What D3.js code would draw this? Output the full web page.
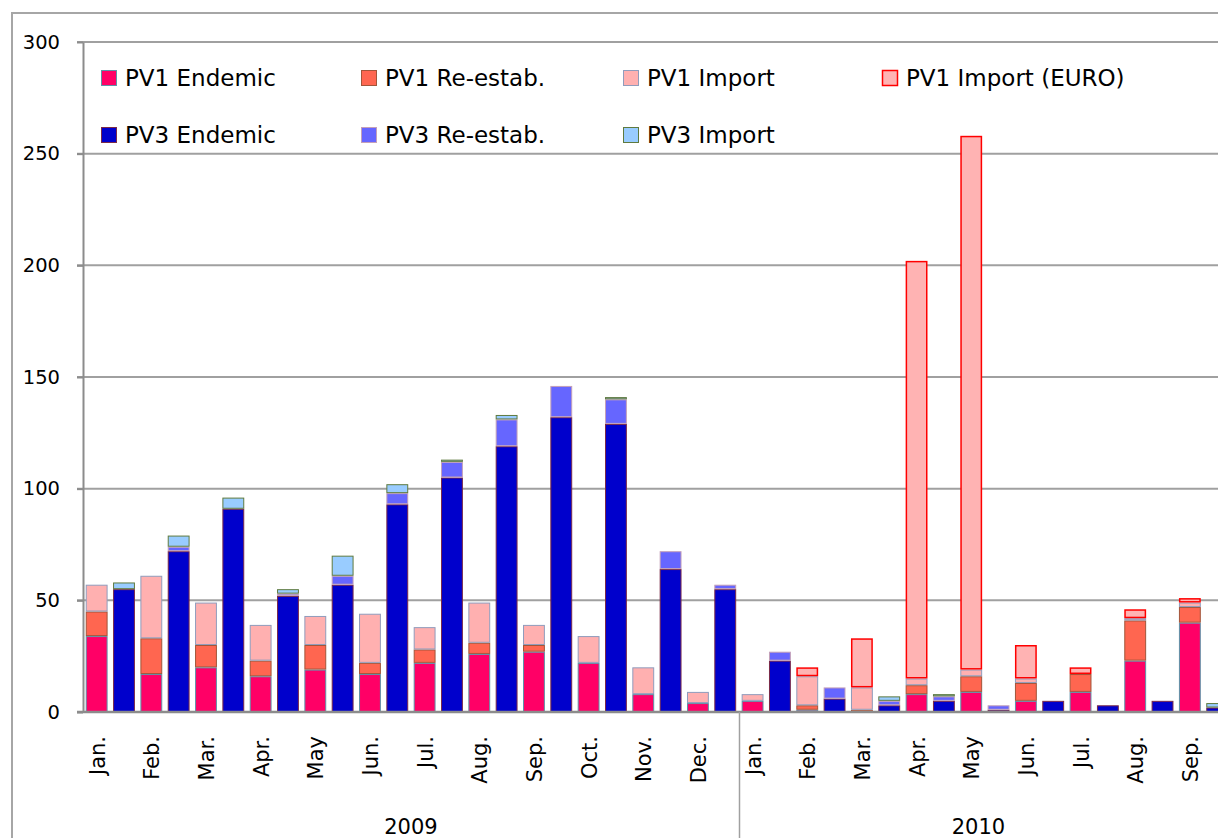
<!DOCTYPE html>
<html>
<head>
<meta charset="utf-8">
<script src="https://cdn.jsdelivr.net/npm/d3@7"></script>
<style>
  body { margin: 0; background: #fff; }
  svg { display: block; font-family: "DejaVu Sans", sans-serif; }
</style>
</head>
<body>
<div id="chart"></div>
<script>
(function () {
  // month labels and the year each one belongs to (Jan 2009 .. Sep 2010)
  const months = ["Jan.", "Feb.", "Mar.", "Apr.", "May", "Jun.", "Jul.", "Aug.", "Sep.", "Oct.", "Nov.", "Dec.",
    "Jan.", "Feb.", "Mar.", "Apr.", "May", "Jun.", "Jul.", "Aug.", "Sep."];
  const monthYears = ["2009", "2009", "2009", "2009", "2009", "2009", "2009", "2009", "2009", "2009", "2009", "2009",
    "2010", "2010", "2010", "2010", "2010", "2010", "2010", "2010", "2010"];

  // cases per month
  const pv1Endemic = [34, 17, 20, 16, 19, 17, 22, 26, 27, 22, 8, 4, 5, 1, 0, 8, 9, 5, 9, 23, 40];
  const pv1Reestab = [11, 16, 10, 7, 11, 5, 6, 5, 3, 0, 0, 0, 0, 2, 1, 4, 7, 8, 8, 18, 7];
  const pv1Import = [12, 28, 19, 16, 13, 22, 10, 18, 9, 12, 12, 5, 3, 13, 10, 3, 3, 2, 0, 1, 2];
  const pv1ImportEuro = [0, 0, 0, 0, 0, 0, 0, 0, 0, 0, 0, 0, 0, 4, 22, 187, 239, 15, 3, 4, 2];
  const pv3Endemic = [55, 72, 91, 52, 57, 93, 105, 119, 132, 129, 64, 55, 23, 6, 3, 5, 1, 5, 3, 5, 2];
  const pv3Reestab = [0, 2, 0, 1, 4, 5, 7, 12, 14, 11, 8, 2, 4, 5, 2, 2, 2, 0, 0, 0, 0];
  const pv3Import = [3, 5, 5, 2, 9, 4, 1, 2, 0, 1, 0, 0, 0, 0, 2, 1, 0, 0, 0, 0, 2];

  const yTicks = [0, 50, 100, 150, 200, 250, 300];

  const series = [
    { key: "pv1End", name: "PV1 Endemic", type: "PV1", values: pv1Endemic, fill: "#ff0066", stroke: "#5e93a8", sw: 1 },
    { key: "pv1Re", name: "PV1 Re-estab.", type: "PV1", values: pv1Reestab, fill: "#ff6650", stroke: "#a2553a", sw: 1 },
    { key: "pv1Imp", name: "PV1 Import", type: "PV1", values: pv1Import, fill: "#ffb0b0", stroke: "#909cbc", sw: 1 },
    { key: "pv1Euro", name: "PV1 Import (EURO)", type: "PV1", values: pv1ImportEuro, fill: "#ffb3b3", stroke: "#ff0000", sw: 1.5 },
    { key: "pv3End", name: "PV3 Endemic", type: "PV3", values: pv3Endemic, fill: "#0000cc", stroke: "#7a2a48", sw: 1 },
    { key: "pv3Re", name: "PV3 Re-estab.", type: "PV3", values: pv3Reestab, fill: "#6666ff", stroke: "#c4a0b8", sw: 1 },
    { key: "pv3Imp", name: "PV3 Import", type: "PV3", values: pv3Import, fill: "#99ccff", stroke: "#5f7a3f", sw: 1 }
  ];

  // one column per month and virus type
  const rows = [];
  months.forEach((m, i) => {
    ["PV1", "PV3"].forEach(t => {
      const row = { id: i + "-" + t, month: i, type: t };
      series.forEach(s => { row[s.key] = s.type === t ? s.values[i] : 0; });
      rows.push(row);
    });
  });

  const W = 1218, H = 838;
  const margin = { left: 83, top: 42 };
  const step = 27.33;
  const plotRight = margin.left + step * rows.length;
  const baseY = 712;

  const x = d3.scaleBand()
    .domain(rows.map(r => r.id))
    .range([margin.left, plotRight])
    .paddingInner(0.2)
    .paddingOuter(0.1);

  const y = d3.scaleLinear()
    .domain([0, 300])
    .range([baseY, margin.top]);

  const stacked = d3.stack().keys(series.map(s => s.key))(rows);

  const svg = d3.select("#chart").append("svg")
    .attr("width", W)
    .attr("height", H);

  // chart frame
  svg.append("rect")
    .attr("x", 12).attr("y", 13)
    .attr("width", W + 100).attr("height", H + 100)
    .attr("fill", "none")
    .attr("stroke", "#a6a6a6")
    .attr("stroke-width", 2);

  // gridlines
  svg.append("g").selectAll("line")
    .data(yTicks.filter(t => t > 0))
    .join("line")
    .attr("x1", margin.left - 6).attr("x2", W)
    .attr("y1", d => y(d)).attr("y2", d => y(d))
    .attr("stroke", "#a0a0a0")
    .attr("stroke-width", 2);

  // y axis
  const yAxis = svg.append("g")
    .attr("transform", "translate(" + margin.left + ",0)")
    .call(d3.axisLeft(y).tickValues(yTicks).tickSizeInner(6).tickSizeOuter(0).tickPadding(17));
  yAxis.select(".domain").attr("stroke", "#8c8c8c").attr("stroke-width", 2);
  yAxis.selectAll(".tick line").attr("stroke", "#8c8c8c").attr("stroke-width", 2);
  yAxis.selectAll(".tick text")
    .attr("font-size", "19.5px")
    .attr("font-family", "DejaVu Sans, sans-serif")
    .attr("fill", "#000");

  // bars
  const layers = svg.append("g").selectAll("g")
    .data(stacked)
    .join("g")
    .each(function (layer, li) {
      const s = series[li];
      d3.select(this).selectAll("rect")
        .data(layer.filter(d => d[1] - d[0] > 0))
        .join("rect")
        .attr("x", d => x(d.data.id) + s.sw / 2)
        .attr("width", x.bandwidth() - s.sw)
        .attr("y", d => y(d[1]) + s.sw / 2)
        .attr("height", d => Math.max(0.5, y(d[0]) - y(d[1]) - s.sw))
        .attr("fill", s.fill)
        .attr("stroke", s.stroke)
        .attr("stroke-width", s.sw);
    });

  // x axis line
  svg.append("line")
    .attr("x1", margin.left - 6).attr("x2", W)
    .attr("y1", baseY).attr("y2", baseY)
    .attr("stroke", "#8c8c8c")
    .attr("stroke-width", 2.5);

  // month labels (under the PV1 column of each month)
  svg.append("g").selectAll("text")
    .data(months)
    .join("text")
    .attr("transform", (d, i) => {
      const cx = x(i + "-PV1") + x.bandwidth() / 2 + 1;
      return "translate(" + cx + "," + (baseY + 24) + ") rotate(-90)";
    })
    .attr("text-anchor", "end")
    .attr("dominant-baseline", "central")
    .attr("font-size", "21px")
    .attr("fill", "#000")
    .text(d => d);

  // year groups
  const yearNames = Array.from(new Set(monthYears));
  const groups = yearNames.map(yr => {
    const idx = monthYears.map((v, i) => v === yr ? i : -1).filter(i => i >= 0);
    const x0 = x(idx[0] + "-PV1") - x.step() * x.paddingOuter();
    const x1 = x(idx[idx.length - 1] + "-PV3") + x.bandwidth() + x.step() * x.paddingOuter();
    return { year: yr, x0: x0, x1: x1 };
  });

  svg.append("g").selectAll("line")
    .data(groups.slice(1))
    .join("line")
    .attr("x1", d => Math.round(d.x0) + 0.5).attr("x2", d => Math.round(d.x0) + 0.5)
    .attr("y1", baseY).attr("y2", H)
    .attr("stroke", "#a0a0a0")
    .attr("stroke-width", 1.5);

  svg.append("g").selectAll("text")
    .data(groups)
    .join("text")
    .attr("x", d => (d.x0 + Math.min(d.x1, W)) / 2)
    .attr("y", 834)
    .attr("text-anchor", "middle")
    .attr("font-size", "21px")
    .attr("fill", "#000")
    .text(d => d.year);

  // legend
  const legendOrder = [
    ["pv1End", "pv1Re", "pv1Imp", "pv1Euro"],
    ["pv3End", "pv3Re", "pv3Imp"]
  ];
  const legendX = [101, 361, 623, 882];
  const legendY = [78, 135];
  const legend = svg.append("g");
  legendOrder.forEach((row, ri) => {
    row.forEach((key, ci) => {
      const s = series.find(d => d.key === key);
      const g = legend.append("g")
        .attr("transform", "translate(" + legendX[ci] + "," + legendY[ri] + ")");
      g.append("rect")
        .attr("x", 0.5).attr("y", -7.5)
        .attr("width", 15).attr("height", 15)
        .attr("fill", s.fill)
        .attr("stroke", s.stroke)
        .attr("stroke-width", s.sw);
      g.append("text")
        .attr("x", 24)
        .attr("y", 0)
        .attr("dominant-baseline", "central")
        .attr("font-size", "23px")
        .attr("fill", "#000")
        .text(s.name);
    });
  });
})();
</script>
</body>
</html>
